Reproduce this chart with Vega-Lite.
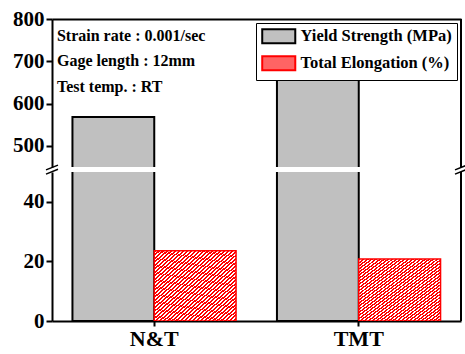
{
  "$schema": "https://vega.github.io/schema/vega-lite/v6.json",
  "padding": {"left": 12, "top": 8, "right": 0, "bottom": 0},
  "background": "white",
  "bounds": "flush",
  "config": {
    "view": {"stroke": null},
    "axis": {"domainColor": "black", "domainWidth": 2, "tickColor": "black", "tickWidth": 2, "labelFont": "Liberation Serif", "labelFontWeight": "bold", "labelColor": "black", "grid": false, "title": null},
    "legend": {"labelFont": "Liberation Serif", "labelFontWeight": "bold", "labelFontSize": 16.5, "labelColor": "black"}
  },
  "datasets": {
    "bars": [
      {"sample": "N&T", "measure": "Yield Strength (MPa)", "value": 568},
      {"sample": "N&T", "measure": "Total Elongation (%)", "value": 23.6},
      {"sample": "TMT", "measure": "Yield Strength (MPa)", "value": 657},
      {"sample": "TMT", "measure": "Total Elongation (%)", "value": 20.8}
    ],
    "notes": [
      {"label": "Strain rate : 0.001/sec", "y": 759},
      {"label": "Gage length : 12mm", "y": 700},
      {"label": "Test temp. : RT", "y": 639}
    ]
  },
  "spacing": 5,
  "resolve": {"legend": {"stroke": "independent", "fill": "independent"}, "scale": {"stroke": "independent", "fill": "independent"}},
  "vconcat": [
    {
      "width": 409,
      "height": 148,
      "layer": [
        {
          "data": {"name": "bars"},
          "transform": [{"filter": "datum.measure === 'Yield Strength (MPa)'"}],
          "mark": {"type": "bar", "clip": true, "strokeWidth": 2, "fillOpacity": 1},
          "encoding": {
            "x": {"field": "sample", "type": "nominal", "scale": {"domain": ["N&T", "TMT"], "paddingInner": 0.2, "paddingOuter": 0.1}, "axis": {"orient": "top", "labels": false, "ticks": false, "title": null}},
            "xOffset": {"field": "measure", "type": "nominal", "scale": {"domain": ["Yield Strength (MPa)", "Total Elongation (%)"], "paddingInner": 0, "paddingOuter": 0}},
            "y": {"field": "value", "type": "quantitative", "scale": {"domain": [450, 800], "zero": false, "nice": false},
              "axis": {"values": [500, 550, 600, 650, 700, 750, 800], "labelExpr": "datum.value % 100 === 0 ? datum.label : ''", "tickSize": {"condition": {"test": "datum.value % 100 === 0", "value": 6}, "value": 3}, "labelFontSize": 21, "labelPadding": 2, "title": null}},
            "fill": {"field": "measure", "type": "nominal", "scale": {"domain": ["Yield Strength (MPa)", "Total Elongation (%)"], "range": ["#c0c0c0", "#ff6464"]},
              "legend": {
                "orient": "top-right", "offset": 4, "title": null, "strokeColor": "black", "fillColor": "white", "padding": 5,
                "symbolType": "M-2.36,-1H2.36V1H-2.36Z", "symbolSize": 196, "symbolOffset": 9.5, "labelOffset": 13.5, "rowPadding": 4,
                "labelFontSize": 16.5, "labelFont": "Liberation Serif", "labelFontWeight": "bold", "labelColor": "black", "symbolStrokeWidth": 2, "symbolOpacity": 1
              }},
            "stroke": {"field": "measure", "type": "nominal", "scale": {"domain": ["Yield Strength (MPa)", "Total Elongation (%)"], "range": ["black", "red"]},
              "legend": {
                "orient": "top-right", "offset": 4, "title": null, "strokeColor": "black", "fillColor": "white", "padding": 5,
                "symbolType": "M-2.36,-1H2.36V1H-2.36Z", "symbolSize": 196, "symbolOffset": 9.5, "labelOffset": 13.5, "rowPadding": 4,
                "labelFontSize": 16.5, "labelFont": "Liberation Serif", "labelFontWeight": "bold", "labelColor": "black", "symbolStrokeWidth": 2, "symbolOpacity": 1
              }}
          }
        },
        {
          "data": {"name": "notes"},
          "mark": {"type": "text", "align": "left", "baseline": "middle", "fontSize": 16, "fontWeight": "bold", "font": "Liberation Serif", "color": "black", "dx": -15.5},
          "encoding": {
            "x": {"datum": "N&T", "type": "nominal", "bandPosition": 0},
            "y": {"field": "y", "type": "quantitative"},
            "text": {"field": "label"}
          }
        },
        {
          "data": {"values": [{"frame": "right"}]},
          "mark": {"type": "rule", "strokeWidth": 2, "color": "black"},
          "encoding": {"x": {"datum": "TMT", "type": "nominal", "bandPosition": 1.125}}
        }
      ]
    },
    {
      "width": 409,
      "height": 149,
      "layer": [
        {
          "data": {"name": "bars"},
          "transform": [{"filter": "datum.measure === 'Yield Strength (MPa)'"}],
          "mark": {"type": "bar", "clip": true, "fill": "#c0c0c0", "stroke": "black", "strokeWidth": 2, "fillOpacity": 1},
          "encoding": {
            "x": {"field": "sample", "type": "nominal", "scale": {"domain": ["N&T", "TMT"], "paddingInner": 0.2, "paddingOuter": 0.1}, "axis": {"orient": "bottom", "labelFontSize": 22, "tickSize": 5, "labelPadding": 2, "labelAngle": 0, "title": null}},
            "xOffset": {"field": "measure", "type": "nominal", "scale": {"domain": ["Yield Strength (MPa)", "Total Elongation (%)"], "paddingInner": 0, "paddingOuter": 0}},
            "y": {"field": "value", "type": "quantitative", "scale": {"domain": [0, 50], "zero": false, "nice": false},
              "axis": {"values": [0, 10, 20, 30, 40], "labelExpr": "datum.value % 20 === 0 ? datum.label : ''", "tickSize": {"condition": {"test": "datum.value % 20 === 0", "value": 6}, "value": 3}, "labelFontSize": 21, "labelPadding": 2, "title": null}}
          }
        },
        {
          "data": {"name": "bars"},
          "transform": [{"filter": "datum.measure === 'Total Elongation (%)'"}],
          "mark": {"type": "bar", "clip": true, "stroke": "red", "strokeWidth": 1.5, "fillOpacity": 1,
            "fill": {"gradient": "linear", "x1": 0, "y1": 0, "x2": 1, "y2": 1, "stops": [
              {"offset": 0, "color": "red"}, {"offset": 0.014, "color": "red"}, {"offset": 0.014, "color": "white"}, {"offset": 0.025, "color": "white"},
              {"offset": 0.025, "color": "red"}, {"offset": 0.039, "color": "red"}, {"offset": 0.039, "color": "white"}, {"offset": 0.05, "color": "white"},
              {"offset": 0.05, "color": "red"}, {"offset": 0.064, "color": "red"}, {"offset": 0.064, "color": "white"}, {"offset": 0.075, "color": "white"},
              {"offset": 0.075, "color": "red"}, {"offset": 0.089, "color": "red"}, {"offset": 0.089, "color": "white"}, {"offset": 0.1, "color": "white"},
              {"offset": 0.1, "color": "red"}, {"offset": 0.114, "color": "red"}, {"offset": 0.114, "color": "white"}, {"offset": 0.125, "color": "white"},
              {"offset": 0.125, "color": "red"}, {"offset": 0.139, "color": "red"}, {"offset": 0.139, "color": "white"}, {"offset": 0.15, "color": "white"},
              {"offset": 0.15, "color": "red"}, {"offset": 0.164, "color": "red"}, {"offset": 0.164, "color": "white"}, {"offset": 0.175, "color": "white"},
              {"offset": 0.175, "color": "red"}, {"offset": 0.189, "color": "red"}, {"offset": 0.189, "color": "white"}, {"offset": 0.2, "color": "white"},
              {"offset": 0.2, "color": "red"}, {"offset": 0.214, "color": "red"}, {"offset": 0.214, "color": "white"}, {"offset": 0.225, "color": "white"},
              {"offset": 0.225, "color": "red"}, {"offset": 0.239, "color": "red"}, {"offset": 0.239, "color": "white"}, {"offset": 0.25, "color": "white"},
              {"offset": 0.25, "color": "red"}, {"offset": 0.264, "color": "red"}, {"offset": 0.264, "color": "white"}, {"offset": 0.275, "color": "white"},
              {"offset": 0.275, "color": "red"}, {"offset": 0.289, "color": "red"}, {"offset": 0.289, "color": "white"}, {"offset": 0.3, "color": "white"},
              {"offset": 0.3, "color": "red"}, {"offset": 0.314, "color": "red"}, {"offset": 0.314, "color": "white"}, {"offset": 0.325, "color": "white"},
              {"offset": 0.325, "color": "red"}, {"offset": 0.339, "color": "red"}, {"offset": 0.339, "color": "white"}, {"offset": 0.35, "color": "white"},
              {"offset": 0.35, "color": "red"}, {"offset": 0.364, "color": "red"}, {"offset": 0.364, "color": "white"}, {"offset": 0.375, "color": "white"},
              {"offset": 0.375, "color": "red"}, {"offset": 0.389, "color": "red"}, {"offset": 0.389, "color": "white"}, {"offset": 0.4, "color": "white"},
              {"offset": 0.4, "color": "red"}, {"offset": 0.414, "color": "red"}, {"offset": 0.414, "color": "white"}, {"offset": 0.425, "color": "white"},
              {"offset": 0.425, "color": "red"}, {"offset": 0.439, "color": "red"}, {"offset": 0.439, "color": "white"}, {"offset": 0.45, "color": "white"},
              {"offset": 0.45, "color": "red"}, {"offset": 0.464, "color": "red"}, {"offset": 0.464, "color": "white"}, {"offset": 0.475, "color": "white"},
              {"offset": 0.475, "color": "red"}, {"offset": 0.489, "color": "red"}, {"offset": 0.489, "color": "white"}, {"offset": 0.5, "color": "white"},
              {"offset": 0.5, "color": "red"}, {"offset": 0.514, "color": "red"}, {"offset": 0.514, "color": "white"}, {"offset": 0.525, "color": "white"},
              {"offset": 0.525, "color": "red"}, {"offset": 0.539, "color": "red"}, {"offset": 0.539, "color": "white"}, {"offset": 0.55, "color": "white"},
              {"offset": 0.55, "color": "red"}, {"offset": 0.564, "color": "red"}, {"offset": 0.564, "color": "white"}, {"offset": 0.575, "color": "white"},
              {"offset": 0.575, "color": "red"}, {"offset": 0.589, "color": "red"}, {"offset": 0.589, "color": "white"}, {"offset": 0.6, "color": "white"},
              {"offset": 0.6, "color": "red"}, {"offset": 0.614, "color": "red"}, {"offset": 0.614, "color": "white"}, {"offset": 0.625, "color": "white"},
              {"offset": 0.625, "color": "red"}, {"offset": 0.639, "color": "red"}, {"offset": 0.639, "color": "white"}, {"offset": 0.65, "color": "white"},
              {"offset": 0.65, "color": "red"}, {"offset": 0.664, "color": "red"}, {"offset": 0.664, "color": "white"}, {"offset": 0.675, "color": "white"},
              {"offset": 0.675, "color": "red"}, {"offset": 0.689, "color": "red"}, {"offset": 0.689, "color": "white"}, {"offset": 0.7, "color": "white"},
              {"offset": 0.7, "color": "red"}, {"offset": 0.714, "color": "red"}, {"offset": 0.714, "color": "white"}, {"offset": 0.725, "color": "white"},
              {"offset": 0.725, "color": "red"}, {"offset": 0.739, "color": "red"}, {"offset": 0.739, "color": "white"}, {"offset": 0.75, "color": "white"},
              {"offset": 0.75, "color": "red"}, {"offset": 0.764, "color": "red"}, {"offset": 0.764, "color": "white"}, {"offset": 0.775, "color": "white"},
              {"offset": 0.775, "color": "red"}, {"offset": 0.789, "color": "red"}, {"offset": 0.789, "color": "white"}, {"offset": 0.8, "color": "white"},
              {"offset": 0.8, "color": "red"}, {"offset": 0.814, "color": "red"}, {"offset": 0.814, "color": "white"}, {"offset": 0.825, "color": "white"},
              {"offset": 0.825, "color": "red"}, {"offset": 0.839, "color": "red"}, {"offset": 0.839, "color": "white"}, {"offset": 0.85, "color": "white"},
              {"offset": 0.85, "color": "red"}, {"offset": 0.864, "color": "red"}, {"offset": 0.864, "color": "white"}, {"offset": 0.875, "color": "white"},
              {"offset": 0.875, "color": "red"}, {"offset": 0.889, "color": "red"}, {"offset": 0.889, "color": "white"}, {"offset": 0.9, "color": "white"},
              {"offset": 0.9, "color": "red"}, {"offset": 0.914, "color": "red"}, {"offset": 0.914, "color": "white"}, {"offset": 0.925, "color": "white"},
              {"offset": 0.925, "color": "red"}, {"offset": 0.939, "color": "red"}, {"offset": 0.939, "color": "white"}, {"offset": 0.95, "color": "white"},
              {"offset": 0.95, "color": "red"}, {"offset": 0.964, "color": "red"}, {"offset": 0.964, "color": "white"}, {"offset": 0.975, "color": "white"},
              {"offset": 0.975, "color": "red"}, {"offset": 0.989, "color": "red"}, {"offset": 0.989, "color": "white"}, {"offset": 1, "color": "white"}
            ]}},
          "encoding": {
            "x": {"field": "sample", "type": "nominal"},
            "xOffset": {"field": "measure", "type": "nominal"},
            "y": {"field": "value", "type": "quantitative"}
          }
        },
        {
          "data": {"values": [{"frame": "right"}]},
          "mark": {"type": "rule", "strokeWidth": 2, "color": "black"},
          "encoding": {"x": {"datum": "TMT", "type": "nominal", "bandPosition": 1.125}}
        },
        {
          "data": {"values": [{"break": "left"}]},
          "mark": {"type": "point", "shape": "M-1,0.05L1,-0.75M-1,0.75L1,-0.05", "size": 144, "filled": false, "stroke": "black", "strokeWidth": 1.5, "opacity": 1, "clip": false},
          "encoding": {"x": {"datum": "N&T", "type": "nominal", "bandPosition": -0.125}, "y": {"datum": 50.8, "type": "quantitative"}}
        },
        {
          "data": {"values": [{"break": "right"}]},
          "mark": {"type": "point", "shape": "M-1,0.05L1,-0.75M-1,0.75L1,-0.05", "size": 144, "filled": false, "stroke": "black", "strokeWidth": 1.5, "opacity": 1, "clip": false},
          "encoding": {"x": {"datum": "TMT", "type": "nominal", "bandPosition": 1.125}, "y": {"datum": 50.8, "type": "quantitative"}}
        }
      ]
    }
  ]
}
